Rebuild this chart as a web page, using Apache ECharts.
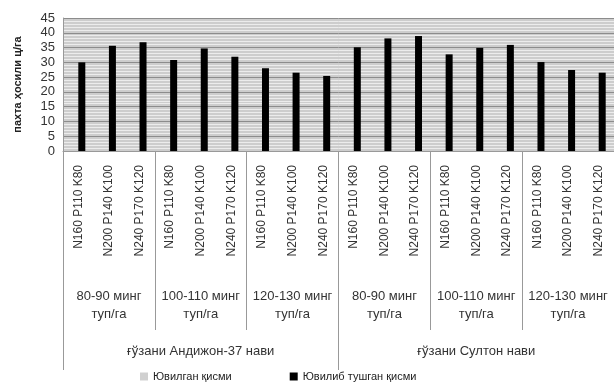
<!DOCTYPE html>
<html>
<head>
<meta charset="utf-8">
<script src="https://cdn.jsdelivr.net/npm/echarts@6/dist/echarts.min.js"></script>
<style>html,body{margin:0;padding:0;background:#fff}#c{width:614px;height:385px}</style>
</head>
<body>
<div id="c"></div>
<script>
const npkLabels = ['N160 P110 K80','N200 P140 K100','N240 P170 K120',
  'N160 P110 K80','N200 P140 K100','N240 P170 K120',
  'N160 P110 K80','N200 P140 K100','N240 P170 K120',
  'N160 P110 K80','N200 P140 K100','N240 P170 K120',
  'N160 P110 K80','N200 P140 K100','N240 P170 K120',
  'N160 P110 K80','N200 P140 K100','N240 P170 K120'];
const densityLabels = ['80-90 минг\nтуп/га','100-110 минг\nтуп/га','120-130 минг\nтуп/га',
  '80-90 минг\nтуп/га','100-110 минг\nтуп/га','120-130 минг\nтуп/га'];
const varietyLabels = ['ғўзани Андижон-37 нави','ғўзани Султон нави'];
const seriesNames = ['Ювилган қисми','Ювилиб тушган қисми'];
const washedValues = [];   // light-grey series: not distinguishable from the background
const washedOffValues = [30.0,35.6,36.8, 30.8,34.7,31.9, 28.0,26.5,25.4,
  35.1,38.1,38.9, 32.7,34.9,35.9, 30.1,27.4,26.5];
const yTicks = {min:0, max:45, interval:5};

const FONT = 'Liberation Sans';
const chart = echarts.init(document.getElementById('c'));
chart.setOption({
  animation:false,
  textStyle:{fontFamily:FONT},
  legend:{
    bottom:-2, left:135, itemWidth:8, itemHeight:8, itemGap:58,
    icon:'rect',
    textStyle:{fontSize:11, color:'#222', fontFamily:FONT},
    data:seriesNames
  },
  grid:{left:63, right:-7, top:18, bottom:234, show:true,
    backgroundColor:'#cdcdcd', borderWidth:0},
  yAxis:{
    type:'value', min:yTicks.min, max:yTicks.max, interval:yTicks.interval,
    name:'пахта ҳосили ц/га', nameLocation:'middle', nameRotate:90, nameGap:40,
    nameTextStyle:{fontSize:11, fontWeight:'bold', color:'#222'},
    axisLine:{show:true, lineStyle:{color:'#999'}},
    axisTick:{show:false},
    axisLabel:{fontSize:13, color:'#333', margin:8},
    splitLine:{show:true, lineStyle:{color:'#8c8c8c', width:1}},
    minorTick:{show:false, splitNumber:5},
    minorSplitLine:{show:true, lineStyle:{color:'#ececec', width:1}}
  },
  xAxis:[
    {type:'category', data:npkLabels, position:'bottom',
     axisLine:{show:true, lineStyle:{color:'#999'}},
     axisTick:{show:false},
     axisLabel:{rotate:90, fontSize:12, color:'#333', margin:14, interval:0}},
    {type:'category', data:densityLabels, position:'bottom', gridIndex:0,
     axisLine:{show:false},
     axisTick:{show:true, length:179, interval:0, lineStyle:{color:'#999'}},
     axisLabel:{fontSize:13, color:'#333', margin:136, lineHeight:18, interval:0}},
    {type:'category', data:varietyLabels, position:'bottom', gridIndex:0,
     axisLine:{show:false},
     axisTick:{show:true, length:219, interval:0, lineStyle:{color:'#999'}},
     axisLabel:{fontSize:13, color:'#333', margin:194, interval:0}}
  ],
  series:[
    {name:seriesNames[0], type:'bar', xAxisIndex:0, data:washedValues,
     barWidth:7, barGap:'0%', itemStyle:{color:'#d0d0d0'}},
    {name:seriesNames[1], type:'bar', xAxisIndex:0, data:washedOffValues,
     barWidth:7, barGap:'0%', itemStyle:{color:'#000'}}
  ]
});
</script>
</body>
</html>
